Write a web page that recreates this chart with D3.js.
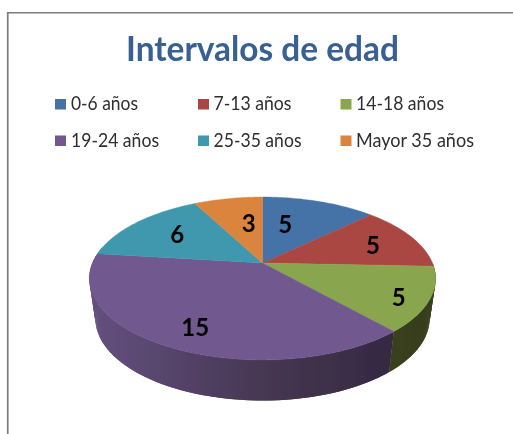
<!DOCTYPE html>
<html>
<head>
<meta charset="utf-8">
<script src="https://cdn.jsdelivr.net/npm/d3@7"></script>
<style>
html,body{margin:0;padding:0;background:#fff;overflow:hidden}
svg{display:block}
text{font-family:Lato,"Open Sans",sans-serif}
</style>
</head>
<body>
<svg id="chart" width="513" height="434"></svg>
<script>
const titleText = "Intervalos de edad";
const categories = ["0-6 años","7-13 años","14-18 años","19-24 años","25-35 años","Mayor 35 años"];
const values = [5,5,5,15,6,3];
const colors = ["#4572A7","#AA4643","#89A54E","#71588F","#4198AF","#DB843D"];
const sideLeft = ["#2f4a6e","#6e2e2c","#414a22","#645080","#2a6373","#8f5627"];
const sideMid = ["#2f4a6e","#6e2e2c","#3d4520","#463752","#2a6373","#8f5627"];
const sideRight = ["#2f4a6e","#6e2e2c","#363d1c","#2e253c","#2a6373","#8f5627"];
const labelRadius = [0.57,0.72,0.845,0.79,0.67,0.56];
const labelShiftDeg = [-8,1.4,3.6,-2,1.7,4.7];

const svg = d3.select("#chart");
const defs = svg.append("defs");
const blur = defs.append("filter").attr("id","soft")
  .attr("x","-5%").attr("y","-5%").attr("width","110%").attr("height","110%");
blur.append("feGaussianBlur").attr("stdDeviation",0.45);
const root = svg.append("g").attr("filter","url(#soft)");
root.append("rect").attr("width",513).attr("height",434).attr("fill","#fff");

root.append("path")
  .attr("d","M7.75 434V12.75H513")
  .attr("fill","none").attr("stroke","#7c7c7c").attr("stroke-width",1.7);

root.append("text").text(titleText)
  .attr("x",262.5).attr("y",61.3).attr("text-anchor","middle")
  .attr("font-size",33.5).attr("font-weight",700).attr("fill","#376092")
  .attr("textLength",273).attr("lengthAdjust","spacingAndGlyphs");

// legend
const colX = d3.scaleOrdinal().domain([0,1,2]).range([55,198,340.5]);
const rowY = d3.scaleOrdinal().domain([0,1]).range([99,135.5]);
const legendWidths = [67,78,88,88,88,118];
const legend = root.append("g").selectAll("g").data(categories).join("g")
  .attr("transform",(d,i)=>`translate(${colX(i%3)},${rowY(Math.floor(i/3))})`);
legend.append("rect").attr("width",11).attr("height",10.5).attr("fill",(d,i)=>colors[i]);
legend.append("text").text(d=>d)
  .attr("x",(d,i)=>i%3===0?16:15.5).attr("y",11).attr("font-size",18.4).attr("fill","#2e2e2e")
  .attr("textLength",(d,i)=>legendWidths[i]).attr("lengthAdjust","spacingAndGlyphs");

// perspective projection of the pie disc
const cx=262.5, cy=263, R=170, S=78.5, k=0.19;
const depth=40, Rb=R*0.965, Sb=79;
const top3d=(a,r=1)=>{const u=r*Math.sin(a),v=r*Math.cos(a),w=1+k*v;return [cx+R*u/w,cy-S*v/w];};
const bot3d=(a)=>{const u=Math.sin(a),v=Math.cos(a),w=1+k*v;return [cx+Rb*u/w,cy+depth-Sb*v/w];};

const pie=d3.pie().sort(null)(values);
const line=d3.line();
const deg=Math.PI/180;
const steps=(a0,a1)=>{const n=Math.max(2,Math.ceil((a1-a0)/(1*deg)));return d3.range(n+1).map(i=>a0+(a1-a0)*i/n);};

// side wall gradients, one per slice, spanning the whole pie width
pie.forEach((p,i)=>{
  const gr=defs.append("linearGradient").attr("id","side"+i)
    .attr("gradientUnits","userSpaceOnUse")
    .attr("x1",cx-R*1.02).attr("x2",cx+R*1.02).attr("y1",0).attr("y2",0);
  [[0,sideLeft[i]],[0.5,sideMid[i]],[1,sideRight[i]]].forEach(([o,c])=>
    gr.append("stop").attr("offset",o).attr("stop-color",c));
});

// side wall: overlapping strips with a position-based fill, so no seams show
const g=root.append("g");
const strips=[];
pie.forEach((p,i)=>{
  const a0=Math.max(p.startAngle,90*deg), a1=Math.min(p.endAngle,282*deg);
  if(a1<=a0) return;
  const st=steps(a0,a1);
  for(let j=0;j<st.length-1;j++){
    const e=st[Math.min(j+2,st.length-1)];
    strips.push({i,pts:[top3d(st[j]),top3d(e),bot3d(e),bot3d(st[j])]});
  }
});
g.selectAll("path.side").data(strips).join("path").attr("class","side")
  .attr("d",d=>line(d.pts)+"Z")
  .attr("fill",d=>`url(#side${d.i})`);

// top face
g.selectAll("path.top").data(pie).join("path").attr("class","top")
  .attr("d",p=>line([[cx,cy],...steps(p.startAngle,p.endAngle).map(a=>top3d(a))])+"Z")
  .attr("fill",(p,i)=>colors[i]).attr("stroke",(p,i)=>colors[i]).attr("stroke-width",0.4);

// data labels
root.append("g").selectAll("text").data(pie).join("text")
  .text(p=>p.value)
  .attr("x",(p,i)=>top3d((p.startAngle+p.endAngle)/2+labelShiftDeg[i]*deg,labelRadius[i])[0])
  .attr("y",(p,i)=>top3d((p.startAngle+p.endAngle)/2+labelShiftDeg[i]*deg,labelRadius[i])[1])
  .attr("dy","0.36em").attr("text-anchor","middle")
  .attr("font-size",24).attr("font-weight",700).attr("fill","#000");
</script>
</body>
</html>
